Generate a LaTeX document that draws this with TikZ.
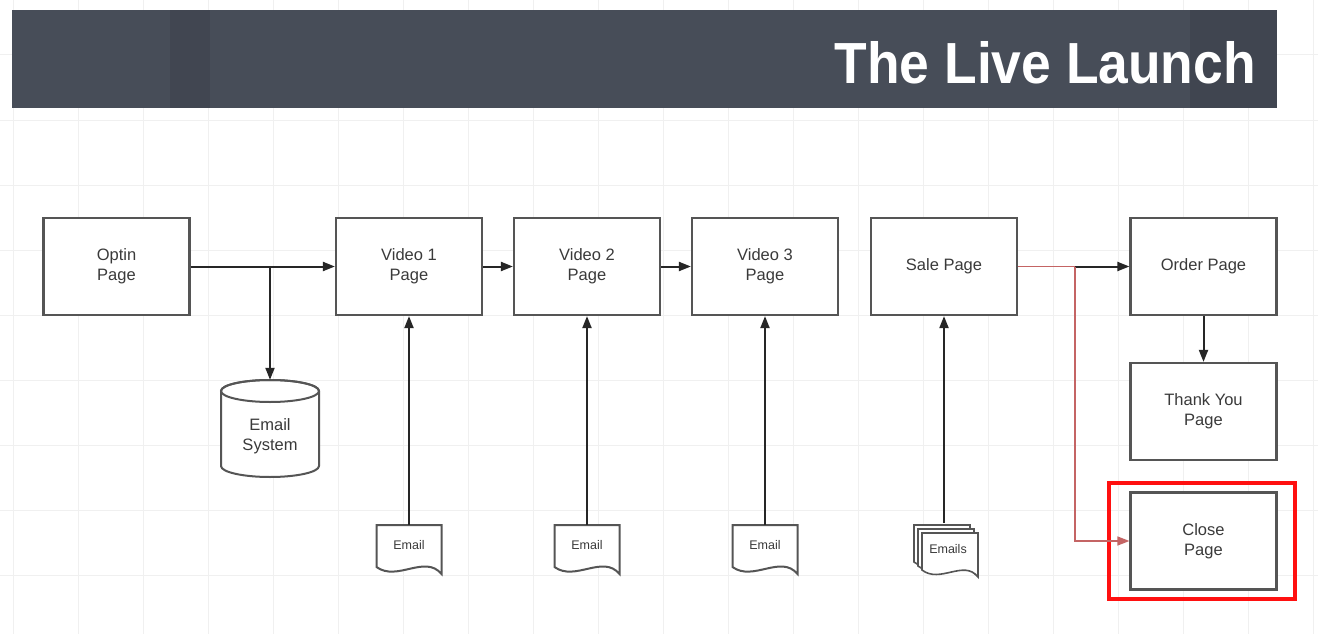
\documentclass[tikz,border=0pt]{standalone}
\usepackage{fontspec}
\setmainfont{Liberation Sans}
\usetikzlibrary{arrows.meta}
\definecolor{hdr}{HTML}{474D58}
\definecolor{hdrdark}{HTML}{3C414B}
\definecolor{gridc}{HTML}{F0F0F0}
\definecolor{boxc}{HTML}{555555}
\definecolor{txt}{HTML}{3A3A3A}
\definecolor{redline}{HTML}{C46464}
\definecolor{hl}{HTML}{FF1010}
\tikzset{
  pg/.style={draw=boxc, line width=2.2pt, fill=white, minimum width=146pt, minimum height=97pt,
    align=center, text=txt, font=\fontsize{16.5}{20}\selectfont, inner sep=0pt},
  lbl/.style={text=txt, align=center, inner sep=0pt},
  conn/.style={draw=black!85, line width=2pt, -{Triangle[length=12pt,width=9pt]}},
  redc/.style={draw=redline, line width=1.5pt},
  shp/.style={draw=boxc, line width=2pt, fill=white},
  gridline/.style={draw=gridc, line width=1pt},
}
\begin{document}
\begin{tikzpicture}[x=1pt,y=-1pt]
\useasboundingbox (0,0) rectangle (1318,634);
\fill[white] (0,0) rectangle (1318,634);
% grid
\foreach \gx in {13,78,...,1313} {\draw[gridline] (\gx,0) -- (\gx,634);}
\foreach \gy in {120,185,...,634} {\draw[gridline] (0,\gy) -- (1318,\gy);}
\draw[gridline] (0,55) -- (1318,55);
% header
\fill[hdr] (12,10) rectangle (1277,108);
\fill[hdrdark, opacity=0.5] (170,10) rectangle (210,108);
\fill[hdrdark, opacity=0.6] (1190,10) rectangle (1277,108);
\node[anchor=east, text=white, inner sep=0pt, font=\fontsize{58}{62}\selectfont\bfseries] (title) at (1256,63) {\scalebox{0.92}[1]{The Live Launch}};
% pages
\node[pg] (optin) at (116.5,266.5) {Optin\\Page};
\node[pg] (v1) at (409,266.5) {Video 1\\Page};
\node[pg] (v2) at (587,266.5) {Video 2\\Page};
\node[pg] (v3) at (765,266.5) {Video 3\\Page};
\node[pg] (sale) at (944,266.5) {Sale Page};
\node[pg] (order) at (1203.5,266.5) {Order Page};
\node[pg] (thanks) at (1203.5,411.5) {Thank You\\Page};
\node[pg] (close) at (1203.5,541) {Close\\Page};
\draw[draw=hl, line width=4pt] (1109,483) rectangle (1295,599);
% cylinder
\node[minimum width=98pt, minimum height=97pt, inner sep=0pt] (cyl) at (270,428.5) {};
\draw[shp] (221,391) -- (221,466) arc[start angle=180, end angle=360, x radius=49, y radius=-11] -- (319,391)
   arc[start angle=0, end angle=180, x radius=49, y radius=-11] -- cycle;
\draw[draw=boxc, line width=2pt] (270,391) ellipse [x radius=49, y radius=11];
\node[lbl, font=\fontsize{16.5}{20}\selectfont] (cyltext) at (270,436) {Email\\System};
% documents
\foreach \nm/\cx in {e1/409, e2/587, e3/765} {
  \begin{scope}[shift={(\cx,550)}]
    \draw[shp] (-32.5,-25) -- (32.5,-25) -- (32.5,24) .. controls (16,4) and (-12,32) .. (-32.5,17) -- cycle;
  \end{scope}
  \node[minimum width=65pt, minimum height=50pt, inner sep=0pt] (\nm) at (\cx,550) {};
  \node[lbl, font=\fontsize{12.5}{15}\selectfont] (\nm t) at (\cx,545) {Email};
}
% stacked emails
\foreach \off in {8,4,0} {
  \begin{scope}[shift={(950-\off,555-\off)}]
    \draw[shp, line width=1.6pt] (-28,-22) -- (28,-22) -- (28,22) .. controls (14,4) and (-10,29) .. (-28,15) -- cycle;
  \end{scope}
}
\node[minimum width=68pt, minimum height=52pt, inner sep=0pt] (es) at (944,549) {};
\node[lbl, font=\fontsize{12.5}{15}\selectfont] (est) at (948,549) {Emails};
% connectors
\coordinate (jopt) at (270,266.5);
\coordinate (jsale) at (1075,266.5);
\coordinate (jred) at (jsale |- close.west);
\draw[conn] (optin.east) -- (v1.west);
\draw[conn] (jopt) -- (cyl.north);
\draw[conn] (v1.east) -- (v2.west);
\draw[conn] (v2.east) -- (v3.west);
\draw[conn] (e1.north) -- (v1.south);
\draw[conn] (e2.north) -- (v2.south);
\draw[conn] (e3.north) -- (v3.south);
\draw[conn] (es.north) -- (sale.south);
\draw[redc] (sale.east) -- (jsale);
\draw[conn] (jsale) -- (order.west);
\draw[redc, -{Triangle[length=12pt,width=9pt]}] (jsale) -- (jred) -- (close.west);
\draw[conn] (order.south) -- (thanks.north);
\end{tikzpicture}
\end{document}
